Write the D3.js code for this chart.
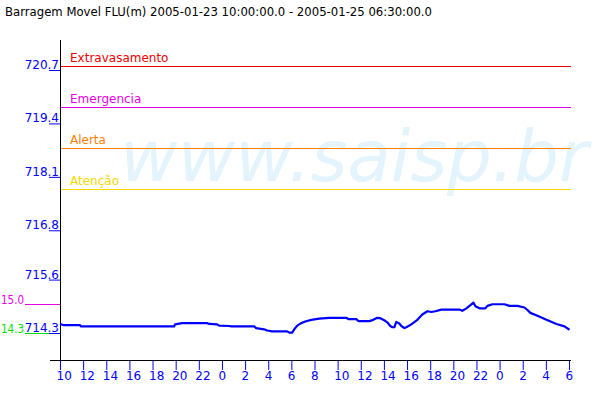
<!DOCTYPE html>
<html>
<head>
<meta charset="utf-8">
<script src="https://cdn.jsdelivr.net/npm/d3@7"></script>
<style>
  html, body { margin: 0; padding: 0; background: #fff; }
  svg { display: block; font-family: "DejaVu Sans", sans-serif; }
</style>
</head>
<body>
<svg id="chart" width="600" height="400"></svg>
<script>
// ---- data ----
const titleText = "Barragem Movel FLU(m) 2005-01-23 10:00:00.0 - 2005-01-25 06:30:00.0";
const watermark = "www.saisp.br";

// hours elapsed since 2005-01-23 10:00
const hours = [0, 0.35, 1.73, 1.82, 9.86, 9.95, 10.56, 12.72, 12.89, 13.58, 13.76, 14.62, 14.80, 16.79,
  16.96, 17.65, 17.91, 18.34, 19.64, 19.82, 20.07, 20.25, 20.51, 20.85, 21.20, 21.72, 22.41, 23.28,
  24.75, 24.92, 25.61, 25.79, 26.74, 27.08, 27.43, 27.69, 28.03, 28.29, 28.55, 28.73, 28.90, 29.07,
  29.33, 29.51, 29.77, 29.94, 30.37, 30.89, 31.32, 31.76, 32.10, 32.45, 32.97, 34.52, 34.78, 35.13,
  35.48, 35.74, 35.91, 36.26, 36.77, 36.95, 37.38, 38.42, 38.85, 39.54, 40.15, 40.41, 40.66, 41.27,
  42.05, 42.92, 43.61, 44.04];
const levels = [714.52, 714.49, 714.49, 714.46, 714.46, 714.51, 714.54, 714.54, 714.52, 714.51, 714.48, 714.47, 714.46, 714.46,
  714.42, 714.39, 714.36, 714.34, 714.34, 714.31, 714.31, 714.39, 714.48, 714.54, 714.58, 714.62, 714.65, 714.67,
  714.67, 714.64, 714.64, 714.59, 714.59, 714.62, 714.67, 714.66, 714.61, 714.56, 714.47, 714.44, 714.44, 714.57,
  714.53, 714.47, 714.42, 714.44, 714.51, 714.62, 714.75, 714.83, 714.81, 714.83, 714.87, 714.87, 714.84, 714.90,
  714.98, 715.04, 714.95, 714.90, 714.90, 714.96, 715.00, 715.00, 714.96, 714.96, 714.92, 714.86, 714.79, 714.72,
  714.62, 714.52, 714.46, 714.38];

const yTickValues = [714.3, 715.6, 716.8, 718.1, 719.4, 720.7];
const yTickLabels = ["714.3", "715.6", "716.8", "718.1", "719.4", "720.7"];
const xTickLabels = ["10","12","14","16","18","20","22","0","2","4","6","8","10","12","14","16","18","20","22","0","2","4","6"];

const thresholdNames = ["Extravasamento", "Emergencia", "Alerta", "Atenção"];
const thresholdValues = [720.8, 719.8, 718.8, 717.8];
const thresholdColors = ["#f00000", "#e600e6", "#ff7f00", "#f5d800"];

const sideLabels = ["15.0", "14.3"];
const sideValues = [15.0, 14.3];      // secondary reading (offset 700 on main scale)
const sideColors = ["#e600e6", "#00e000"];
const sideOffset = 700;

// ---- chart ----
const svg = d3.select("#chart");
const start = new Date(2005, 0, 23, 10, 0);
const endTick = new Date(2005, 0, 25, 6, 0);
const toDate = h => new Date(start.getTime() + h * 3600000);

const x = d3.scaleTime().domain([start, endTick]).range([60, 569]);
const y = d3.scaleLinear().domain([714.3, 720.7]).range([333, 70]);

// title
svg.append("text").attr("x", 5).attr("y", 16).attr("font-size", 12).attr("fill", "#000")
  .attr("textLength", 427).attr("lengthAdjust", "spacingAndGlyphs")
  .text(titleText);

// watermark
svg.append("text").attr("x", 120).attr("y", 181)
  .attr("font-size", 72).attr("font-style", "italic")
  .attr("fill", "#e3f4fc")
  .attr("textLength", 468).attr("lengthAdjust", "spacingAndGlyphs")
  .text(watermark);

// thresholds
thresholdValues.forEach((v, i) => {
  const yy = Math.round(y(v)) + 0.5;
  svg.append("line").attr("x1", 61).attr("x2", 571).attr("y1", yy).attr("y2", yy)
    .attr("stroke", thresholdColors[i]).attr("stroke-width", 1);
  svg.append("text").attr("x", 70).attr("y", yy - 4.5).attr("font-size", 12)
    .attr("fill", thresholdColors[i]).text(thresholdNames[i]);
});

// side marks
sideValues.forEach((v, i) => {
  const yy = Math.round(y(v + sideOffset)) + 0.5;
  svg.append("line").attr("x1", 25).attr("x2", i === 0 ? 61 : 50).attr("y1", yy).attr("y2", yy)
    .attr("stroke", sideColors[i]).attr("stroke-width", 1);
  svg.append("text").attr("x", 1).attr("y", yy - 1).attr("text-anchor", "start")
    .attr("font-size", 11.5).attr("textLength", 23).attr("lengthAdjust", "spacingAndGlyphs")
    .attr("fill", sideColors[i]).text(sideLabels[i]);
});

// y axis
const yAxis = d3.axisLeft(y).tickValues(yTickValues).tickSize(11).tickSizeOuter(0)
  .tickPadding(-10).tickFormat((d, i) => yTickLabels[i]);
const gy = svg.append("g").attr("transform", "translate(60,0)").call(yAxis);
gy.select(".domain").remove();
gy.selectAll(".tick line").attr("stroke", "#0000ff");
gy.selectAll(".tick text").attr("fill", "#0000ff").attr("font-size", 12)
  .attr("font-family", "DejaVu Sans").attr("dy", "-1.5");
svg.append("line").attr("x1", 60.5).attr("x2", 60.5).attr("y1", 40).attr("y2", 361)
  .attr("stroke", "#000");

// x axis
const xAxis = d3.axisBottom(x).ticks(d3.timeHour.every(2)).tickSize(10).tickPadding(1)
  .tickFormat((d, i) => xTickLabels[i]);
const gx = svg.append("g").attr("transform", "translate(0,360)").call(xAxis);
gx.select(".domain").remove();
gx.selectAll(".tick line").attr("stroke", "#0000ff");
gx.selectAll(".tick text").attr("fill", "#0000ff").attr("font-size", 12)
  .attr("font-family", "DejaVu Sans").attr("text-anchor", "start").attr("x", -4);
svg.append("line").attr("x1", 50).attr("x2", 571).attr("y1", 360.5).attr("y2", 360.5)
  .attr("stroke", "#000");

// data line
const line = d3.line().x((d, i) => x(toDate(hours[i]))).y((d) => y(d));
svg.append("path").datum(levels).attr("d", line)
  .attr("fill", "none").attr("stroke", "#0000ff").attr("stroke-width", 2.2)
  .attr("stroke-linejoin", "round");
</script>
</body>
</html>
